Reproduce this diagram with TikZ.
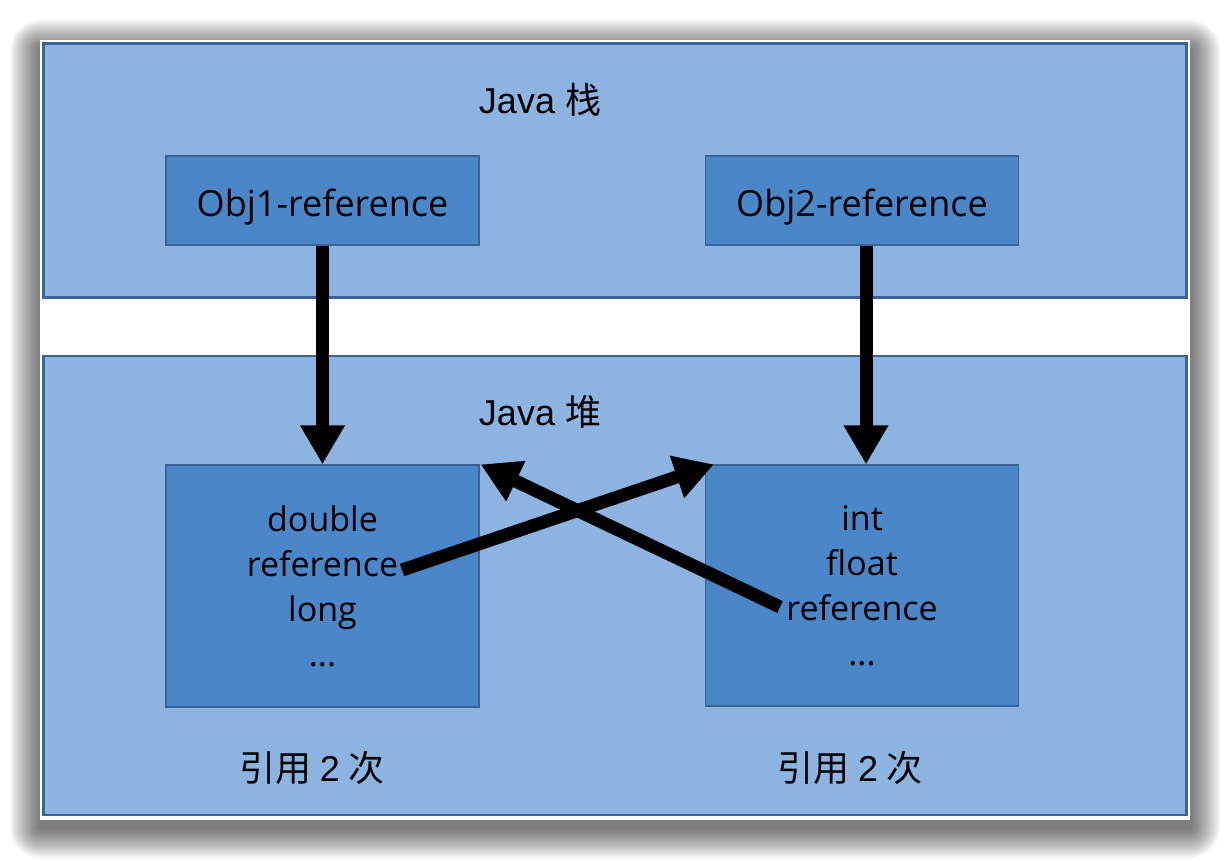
\documentclass[tikz,border=0pt]{standalone}
\usepackage{fontspec}
\setmainfont{Liberation Sans}
\newfontfamily\cjk{Noto Sans CJK SC}
\newfontfamily\boxfont{Open Sans}
\usetikzlibrary{arrows.meta}
\definecolor{panelblue}{HTML}{8DB4E1}
\definecolor{boxblue}{HTML}{4A86C8}
\definecolor{edgeblue}{HTML}{3A6496}
\begin{document}
\begin{tikzpicture}[x=1pt, y=-1pt,
    panel/.style={draw=edgeblue, line width=2.5pt, fill=panelblue, inner sep=0pt},
    objbox/.style={draw=edgeblue, line width=1.2pt, fill=boxblue, inner sep=0pt,
      minimum width=313pt, font=\boxfont\fontsize{34}{45}\selectfont, align=center},
    refbox/.style={objbox, minimum height=89pt, text height=36pt, text depth=5pt,
      font=\boxfont\fontsize{36}{45}\selectfont},
    title/.style={font=\fontsize{36}{40}\selectfont},
    count/.style={font=\cjk\fontsize{36}{40}\selectfont},
    fat/.style={line width=13pt, -{Triangle[width=42pt, length=39pt]}}]
  \useasboundingbox (0,0) rectangle (1230,860);
  % soft shadow under the frame
  \foreach \i in {1,...,30}
    \fill[black, opacity=0.022, rounded corners=\i pt]
      (40-\i, 50-\i) rectangle (1190+\i, 828+\i);
  \fill[white] (40,40) rectangle (1190,820);
  % Java stack
  \node[panel, minimum width=1143pt, minimum height=254pt] (stack) at (615,170.5) {};
  \node[title] (stacklbl) at (540,100) {Java \cjk 栈};
  \node[refbox] (obj1) at (322.5,200.5) {Obj1-reference};
  \node[refbox] (obj2) at (862,200.5) {Obj2-reference};
  % Java heap
  \node[panel, minimum width=1143pt, minimum height=459pt] (heap) at (615,585.5) {};
  \node[title] (heaplbl) at (540,412) {Java \cjk 堆};
  \node[objbox, minimum height=242pt] (heap1) at (322.5,586)
    {double\\reference\\long\\...};
  \node[objbox, minimum height=241pt] (heap2) at (862,585.5)
    {int\\float\\reference\\...};
  \node[count] (cnt1) at (312,768) {引用 {\rmfamily 2} 次};
  \node[count] (cnt2) at (850,768) {引用 {\rmfamily 2} 次};
  % references
  \coordinate (ref1) at (402,570);
  \coordinate (ref2) at (780,607);
  \draw[fat] (obj1.south) -- (heap1.north);
  \draw[fat] ([xshift=4pt]obj2.south) -- ([xshift=4pt]heap2.north);
  \draw[fat] (ref1) -- ([xshift=9pt]heap2.north west);
  \draw[fat] (ref2) -- ([xshift=1pt]heap1.north east);
\end{tikzpicture}
\end{document}
